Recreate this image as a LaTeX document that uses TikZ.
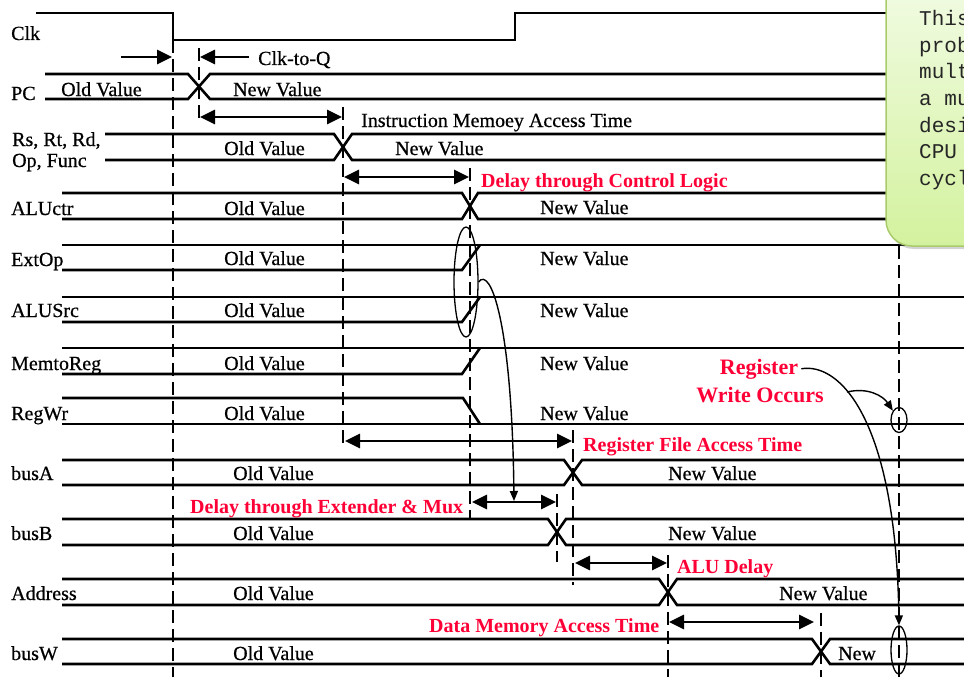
\documentclass[tikz,border=0pt]{standalone}
\usepackage{fontspec}
\setmainfont{Liberation Serif}
\setmonofont{Liberation Mono}
\newfontfamily\lblserif{Liberation Serif}[FakeBold=0.6]
\usetikzlibrary{arrows.meta,shapes.geometric,shadows}
\definecolor{alert}{HTML}{FF0036}
\definecolor{notetop}{HTML}{F4FCE9}
\definecolor{notebot}{HTML}{D3F29E}
\definecolor{noteline}{HTML}{A9CB6B}

\begin{document}
\begin{tikzpicture}[x=1pt,y=-1pt,>={Triangle[length=15pt,width=14pt]},
  sig/.style={line width=2.6pt},
  tline/.style={line width=2pt,dash pattern=on 13pt off 6pt},
  span/.style={line width=2.8pt,<->},
  txt/.style={anchor=base west,inner sep=0pt,font=\lblserif\fontsize{20}{24}\selectfont},
  hot/.style={txt,text=alert,font=\fontsize{20}{24}\selectfont\bfseries},
  ring/.style={draw,ellipse,line width=1.3pt,inner sep=0pt},
  hook/.style={line width=1.4pt,-{Triangle[length=10pt,width=8pt]}}]
  \useasboundingbox (0,0) rectangle (964,677);
  \clip (0,0) rectangle (964,677);
  % clock
  \draw[sig] (36,13) -- (173,13) -- (173,40) -- (515,40) -- (515,13) -- (964,13);
  % buses: start, crossing time, half width, top, bottom
  \foreach \t/\w/\a/\b/\s in {199/11/74/99/45,343/9/134/160/105,470/8/193/219/62,573/9/460/485/62,557/9/519/545/62,668/9/579/605/62,821/9/639/664/62}{
    \draw[sig] (\s,\a) -- (\t-\w,\a) -- (\t+\w,\b) -- (964,\b);
    \draw[sig] (\s,\b) -- (\t-\w,\b) -- (\t+\w,\a) -- (964,\a);
  }
  % control signals
  \foreach \a/\b in {245/270,297/322,348/374}{
    \draw[sig] (62,\a) -- (964,\a);
    \draw[sig] (62,\b) -- (462,\b) -- (480,\a);
  }
  \draw[sig] (62,424) -- (964,424);
  \draw[sig] (62,398) -- (463,398) -- (480,424);
  % time markers
  \foreach \x/\p/\q in {173/40/677,199/48/124,343/107/447,470/168/520,557/494/562,573/430/585,668/555/677,821/613/677,899/246/677}
    \draw[tline] (\x,\p) -- (\x,\q);
  % delays
  \draw[line width=2.8pt,->] (121,57) -- (172,57);
  \draw[line width=2.8pt,->] (249,57) -- (200,57);
  \draw[span] (200,117) -- (342,117);
  \draw[span] (344,177) -- (469,177);
  \draw[span] (345,441) -- (572,441);
  \draw[span] (472,502) -- (556,502);
  \draw[span] (575,563) -- (667,563);
  \draw[span] (669,622) -- (814,622);
  % signal names
  \node[txt] (nclk) at (11,40) {Clk};
  \node[txt] (npc) at (11,100) {PC};
  \node[txt] (nreg1) at (12,146) {Rs, Rt, Rd,};
  \node[txt] (nreg2) at (12,167) {Op, Func};
  \node[txt] (nctr) at (11,215) {ALUctr};
  \node[txt] (next) at (11,266) {ExtOp};
  \node[txt] (nsrc) at (11,317) {ALUSrc};
  \node[txt] (nmem) at (11,370) {MemtoReg};
  \node[txt] (nwr) at (11,420) {RegWr};
  \node[txt] (nbusa) at (11,480) {busA};
  \node[txt] (nbusb) at (11,540) {busB};
  \node[txt] (naddr) at (11,600) {Address};
  \node[txt] (nbusw) at (11,660) {busW};
  % values
  \foreach \x/\y/\u/\v [count=\i] in {61/96/233/96,224/155/395/155,224/215/540/214,224/265/540/265,224/317/540/317,224/370/540/370,224/420/540/420,233/480/668/480,233/540/668/540,233/600/779/600}{
    \node[txt] (old\i) at (\x,\y) {Old Value};
    \node[txt] (new\i) at (\u,\v) {New Value};
  }
  \node[txt] (old11) at (233,660) {Old Value};
  \node[txt] (new11) at (838,660) {New};
  % delay labels
  \node[txt] (lcq) at (258,65) {Clk-to-Q};
  \node[txt] (lim) at (361,127) {Instruction Memoey Access Time};
  \node[hot] (lcl) at (481,187) {Delay through Control Logic};
  \node[hot] (lrf) at (583,451) {Register File Access Time};
  \node[hot] (lem) at (190,513) {Delay through Extender \& Mux};
  \node[hot] (lalu) at (677,573) {ALU Delay};
  \node[hot] (ldm) at (429,632) {Data Memory Access Time};
  \node[hot,anchor=base,font=\fontsize{22}{26}\selectfont\bfseries] (regw1) at (759,374) {Register};
  \node[hot,anchor=base,font=\fontsize{22}{26}\selectfont\bfseries] (regw2) at (760,402) {Write Occurs};
  % rings and pointers
  \node[ring,minimum width=24pt,minimum height=110pt] (extell) at (466,282) {};
  \node[ring,minimum width=16pt,minimum height=25pt] (rwell) at (899,420) {};
  \node[ring,minimum width=16pt,minimum height=48pt] (wbell) at (899,650) {};
  \coordinate (emtip) at (514,501);
  \coordinate (fork) at (847,392);
  \draw[hook] (extell.east) .. controls (490,266) and (512,320) .. (emtip);
  \draw[hook] ([xshift=3pt]regw1.east) .. controls (840,362) and (896,420) .. (wbell.north);
  \draw[hook] (fork) .. controls (868,387) and (883,396) .. (rwell.north west);
  % note
  \path[draw=noteline,line width=1.5pt,top color=notetop,bottom color=notebot,rounded corners=26pt,
    drop shadow={shadow xshift=2pt,shadow yshift=-3pt,opacity=.35}] (886,-40) rectangle (1010,246);
  \foreach \w [count=\i] in {This,prob,mult,a mu,desi,CPU,cycl}
    \node[anchor=base west,inner sep=0pt,text=black!85,font=\ttfamily\fontsize{21}{26}\selectfont] (note\i) at (919,{25.5+26.67*(\i-1)}) {\w};
\end{tikzpicture}
\end{document}
